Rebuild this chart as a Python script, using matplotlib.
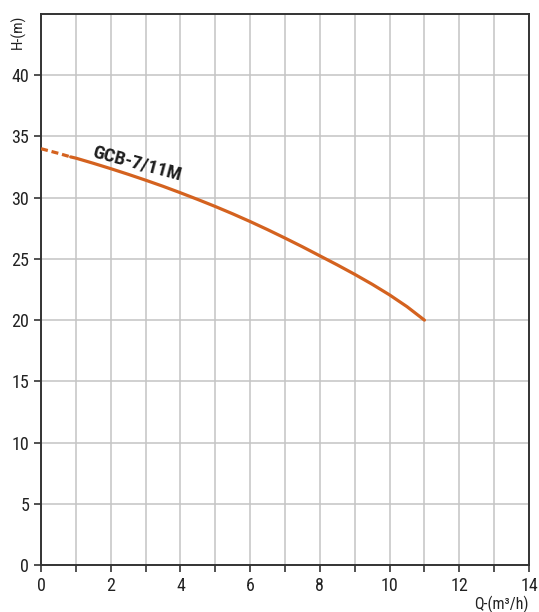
import matplotlib.pyplot as plt
from matplotlib import font_manager

# 曲线数据 (流量 Q, 扬程 H)
q = [0, 0.5, 0.85, 1, 1.5, 2, 2.5, 3, 3.5, 4, 4.5, 5, 5.5, 6, 6.5,
     7, 7.5, 8, 8.5, 9, 9.5, 10, 10.5, 11]
h = [34.0, 33.62, 33.33, 33.23, 32.81, 32.37, 31.91, 31.43, 30.93, 30.40,
     29.85, 29.28, 28.68, 28.05, 27.39, 26.70, 25.99, 25.25, 24.51, 23.74,
     22.93, 22.06, 21.10, 20.0]
n_dash = 3  # 前三个点用虚线
model = 'GCB-7/11M'
xticks = list(range(0, 15))
xlabels = [str(v) if v % 2 == 0 else '' for v in xticks]
yticks = list(range(0, 45, 5))

# 优先用窄体字
names = {f.name for f in font_manager.fontManager.ttflist}
condensed = [n for n in ['Roboto Condensed', 'Liberation Sans Narrow',
                         'Open Sans Condensed'] if n in names]
if condensed:
    plt.rcParams['font.family'] = [condensed[0], 'DejaVu Sans']
else:
    plt.rcParams['font.family'] = ['Roboto', 'DejaVu Sans']

fig = plt.figure(figsize=(5.39, 6.12), dpi=100)
ax = fig.add_axes([0.0761, 0.0768, 0.9053, 0.9003])

orange = '#d4621f'
# 前段虚线, 后段实线
ax.plot(q[:n_dash], h[:n_dash], color=orange, lw=2.3, ls=(0, (2.2, 1.2)), zorder=3)
ax.plot(q[n_dash - 1:], h[n_dash - 1:], color=orange, lw=2.3, zorder=3,
        solid_capstyle='round', solid_joinstyle='round')
ax.text(2.75, 32.8, model, rotation=-15, fontsize=14, fontweight='bold',
        ha='center', va='center', color='#1e1e1e')

ax.set_xlim(0, 14)
ax.set_ylim(0, 45)
ax.set_xticks(xticks)
ax.set_xticklabels(xlabels)
ax.set_yticks(yticks)
ax.grid(True, color='#c4c4c4', lw=1.1)
ax.set_axisbelow(True)
ax.tick_params(direction='out', length=5, width=1.2, color='#333333',
               labelsize=13, labelcolor='#222222')
for s in ax.spines.values():
    s.set_color('#333333')
    s.set_linewidth(1.4)

ax.text(-0.047, 0.998, 'H-(m)', transform=ax.transAxes, rotation=90,
        fontsize=11, ha='center', va='top', color='#222222')
ax.text(1.0, -0.055, 'Q-(m³/h)', transform=ax.transAxes,
        fontsize=11.5, ha='right', va='top', color='#222222')

fig.savefig('out.png', dpi=100)
